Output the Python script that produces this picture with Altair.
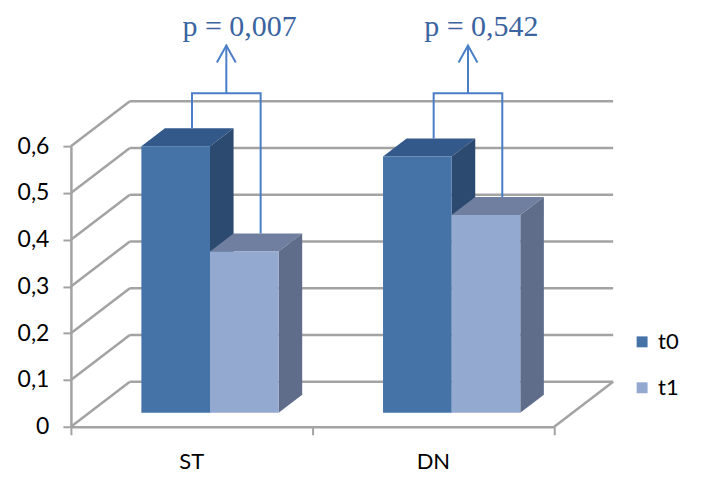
import altair as alt
import pandas as pd

alt.data_transformers.disable_max_rows()
categories = ["ST", "DN"]
series = ["t0", "t1"]
values_t0 = [0.57, 0.548]
values_t1 = [0.345, 0.423]
p_labels = ["p = 0,007", "p = 0,542"]
y_ticks = [0, 0.1, 0.2, 0.3, 0.4, 0.5, 0.6]

W, H = 484, 281
DX, DY = 0.2438, 0.0961
F0, F1 = 0.31, 0.71
BW = 0.284
GRID = "#a3a3a3"

front_col = {"t0": "#4573a8", "t1": "#93a9d0"}
top_col = {"t0": "#33598b", "t1": "#707f9f"}
side_col = {"t0": "#2c4a70", "t1": "#5f6d8a"}

xs = alt.Scale(domain=[0, 2], nice=False, zero=False)
ys = alt.Scale(domain=[0, 0.6], nice=False, zero=False)
xaxis = alt.Axis(values=[0, 1, 2], labels=False, title=None, tickSize=8,
                 domainColor=GRID, tickColor=GRID, domainWidth=2.5, tickWidth=2, grid=False)
yaxis_def = alt.Axis(values=y_ticks, title=None, tickSize=8, labelPadding=14,
                     labelExpr="datum.value == 0 ? '0' : replace(format(datum.value, '.1f'), '.', ',')",
                     labelFont="Lato", labelFontSize=23, labelColor="#000",
                     domainColor=GRID, tickColor=GRID, domainWidth=2.5, tickWidth=2, grid=False)


def X(f):
    return alt.X(f, scale=xs, axis=xaxis)


def Y(f):
    return alt.Y(f, scale=ys, axis=yaxis_def)


# walls
wall_rows = []
for i, v in enumerate(y_ticks):
    wall_rows += [{"g": f"b{i}", "X": DX, "Y": v + DY, "o": 0},
                  {"g": f"b{i}", "X": 2 + DX, "Y": v + DY, "o": 1},
                  {"g": f"s{i}", "X": 0, "Y": v, "o": 0},
                  {"g": f"s{i}", "X": DX, "Y": v + DY, "o": 1}]
wall_rows += [{"g": "f", "X": 2, "Y": 0, "o": 0}, {"g": "f", "X": 2 + DX, "Y": DY, "o": 1}]
walls = alt.Chart(pd.DataFrame(wall_rows)).mark_line(color=GRID, strokeWidth=2.5, clip=False).encode(
    x=X("X:Q"), y=Y("Y:Q"), detail="g:N", order="o:Q")


# bars
def bar_layers(s, vals):
    faces = []
    rects = []
    for c, v in enumerate(vals):
        xl = c + 0.5 - BW if s == "t0" else c + 0.5
        xr = xl + BW
        yf, yb = v + F0 * DY, v + F1 * DY
        g = f"{s}{c}"
        faces += [
            {"g": g + "t", "X": xl + F0 * DX, "Y": yf, "Y2": yf, "fill": top_col[s]},
            {"g": g + "t", "X": xl + F1 * DX, "Y": yf, "Y2": yb, "fill": top_col[s]},
            {"g": g + "t", "X": xr + F0 * DX, "Y": yf, "Y2": yb, "fill": top_col[s]},
            {"g": g + "t", "X": xr + F1 * DX, "Y": yb, "Y2": yb, "fill": top_col[s]},
            {"g": g + "s", "X": xr + F0 * DX, "Y": F0 * DY, "Y2": yf, "fill": side_col[s]},
            {"g": g + "s", "X": xr + F1 * DX, "Y": F1 * DY, "Y2": yb, "fill": side_col[s]},
        ]
        rects.append({"series": s, "X": xl + F0 * DX, "X2": xr + F0 * DX, "Y": F0 * DY, "Y2": yf})
    area = alt.Chart(pd.DataFrame(faces)).mark_area(clip=False, strokeWidth=0).encode(
        x=X("X:Q"), y=Y("Y:Q"), y2="Y2:Q",
        detail="g:N", fill=alt.Fill("fill:N", scale=None))
    rect = alt.Chart(pd.DataFrame(rects)).mark_rect(clip=False).encode(
        x=X("X:Q"), x2="X2:Q", y=Y("Y:Q"), y2="Y2:Q",
        color=alt.Color("series:N", scale=alt.Scale(domain=series, range=[front_col["t0"], front_col["t1"]]),
                        legend=alt.Legend(title=None, orient="none", legendX=561, legendY=185,
                                          symbolType="square", symbolSize=120, labelFontSize=22,
                                          labelFont="Lato", labelColor="#000", rowPadding=24,
                                          labelOffset=5, padding=0, symbolStrokeWidth=0)))
    return [area, rect]


# annotations
BR, TIP, TXT = 0.713, 0.815, 0.836
br_rows, txt_rows = [], []
for c in range(2):
    v0, v1 = values_t0[c], values_t1[c]
    xL = c + 0.5 - BW / 2 + F1 * DX - 0.03
    xR = c + 0.5 + BW / 2 + F1 * DX - 0.03
    g = f"br{c}"
    br_rows += [{"g": g, "X": xL, "Y": v0 + F1 * DY, "o": 0},
                {"g": g, "X": xL, "Y": BR, "o": 1},
                {"g": g, "X": xR, "Y": BR, "o": 2},
                {"g": g, "X": xR, "Y": v1 + F1 * DY, "o": 3}]
    xa = (xL + xR) / 2
    br_rows += [{"g": f"ar{c}", "X": xa, "Y": BR, "o": 0}, {"g": f"ar{c}", "X": xa, "Y": TIP, "o": 1}]
    br_rows += [{"g": f"hd{c}", "X": xa - 0.039, "Y": TIP - 0.036, "o": 0},
                {"g": f"hd{c}", "X": xa, "Y": TIP, "o": 1},
                {"g": f"hd{c}", "X": xa + 0.039, "Y": TIP - 0.036, "o": 2}]
    txt_rows.append({"X": xa + 0.055, "Y": TXT, "t": p_labels[c]})

brackets = alt.Chart(pd.DataFrame(br_rows)).mark_line(color="#4a7ec7", strokeWidth=2, clip=False).encode(
    x=X("X:Q"), y=Y("Y:Q"), detail="g:N", order="o:Q")
ptext = alt.Chart(pd.DataFrame(txt_rows)).mark_text(font="Liberation Serif", fontSize=30, color="#3b64a0",
                                                     baseline="alphabetic", align="center").encode(
    x=X("X:Q"), y=Y("Y:Q"), text="t:N")

cat_df = pd.DataFrame({"X": [0.5, 1.5], "Y": [0.0, 0.0], "t": categories})
cats = alt.Chart(cat_df).mark_text(font="Lato", fontSize=22, color="#000", dy=35, baseline="middle").encode(
    x=X("X:Q"), y=Y("Y:Q"), text="t:N")

layers = [walls, brackets] + bar_layers("t0", values_t0) + bar_layers("t1", values_t1) + [ptext, cats]
chart = alt.layer(*layers).properties(
    width=W, height=H,
    autosize=alt.AutoSizeParams(type="none"),
    padding={"left": 63, "top": 138, "right": 160, "bottom": 50},
).configure_view(stroke=None)

chart.save("out.html", embed_options={"renderer": "svg", "actions": False})
